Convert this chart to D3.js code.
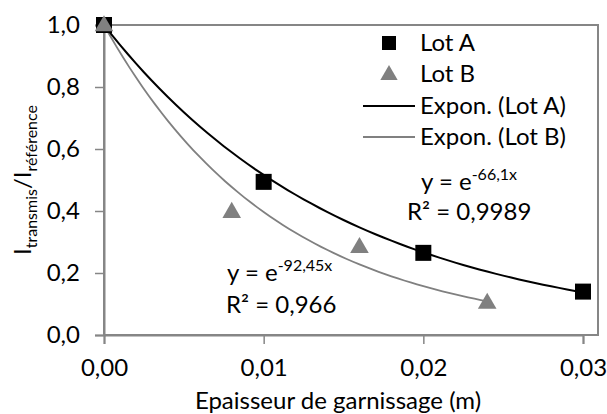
<!DOCTYPE html>
<html><head><meta charset="utf-8">
<script src="https://cdn.jsdelivr.net/npm/d3@7"></script>
<style>body{margin:0;background:#fff}svg{display:block}text{font-family:Lato,"Open Sans",sans-serif;fill:#000}</style>
</head><body><svg id="c" width="607" height="414"></svg>
<script>
const lotA_x = [0, 0.01, 0.02, 0.03];
const lotA_y = [1.0, 0.494, 0.265, 0.14];
const lotB_x = [0, 0.008, 0.016, 0.024];
const lotB_y = [1.0, 0.398, 0.285, 0.105];
const coefA = -66.1, coefB = -92.45;
const xTicks = [0, 0.01, 0.02, 0.03];
const yTicks = [0, 0.2, 0.4, 0.6, 0.8, 1.0];
const legendLabels = ["Lot A", "Lot B", "Expon. (Lot A)", "Expon. (Lot B)"];

const svg = d3.select("#c");
const L = 104, R = 583, T = 25, B = 335, RB = 598;
const x = d3.scaleLinear().domain([0, 0.03]).range([L, R]);
const y = d3.scaleLinear().domain([0, 1]).range([B, T]);
const fmt = d => d.toFixed(1).replace(".", ",");
const fmtX = d => d.toFixed(2).replace(".", ",");
const axisCol = "#868686";
const FS = "24px";

// plot border
svg.append("rect").attr("x", L).attr("y", T).attr("width", RB - L).attr("height", B - T)
  .attr("fill", "none").attr("stroke", axisCol).attr("stroke-width", 2);

// axes
const ya = svg.append("g").attr("transform", `translate(${L},0)`)
  .call(d3.axisLeft(y).tickValues(yTicks).tickFormat(fmt).tickSize(9).tickPadding(15));
const xa = svg.append("g").attr("transform", `translate(0,${B})`)
  .call(d3.axisBottom(x).tickValues(xTicks).tickFormat(fmtX).tickSize(9).tickPadding(15));
[ya, xa].forEach(g => {
  g.select(".domain").attr("stroke", axisCol).attr("stroke-width", 2);
  g.selectAll(".tick line").attr("stroke", axisCol).attr("stroke-width", 1.5);
  g.selectAll(".tick text").style("font-size", FS).attr("fill", "#000");
});

// curves
const line = d3.line().x(d => x(d[0])).y(d => y(d[1]));
const curve = (c, xmax) => d3.range(0, 61).map(i => { const xv = xmax * i / 60; return [xv, Math.exp(c * xv)]; });
svg.append("path").attr("d", line(curve(coefB, 0.024))).attr("fill", "none").attr("stroke", "#808080").attr("stroke-width", 1.8);
svg.append("path").attr("d", line(curve(coefA, 0.03))).attr("fill", "none").attr("stroke", "#000").attr("stroke-width", 2);

// markers
const sq = 16;
svg.selectAll(".a").data(lotA_x.map((v, i) => [v, lotA_y[i]])).enter().append("rect")
  .attr("x", d => x(d[0]) - sq / 2).attr("y", d => y(d[1]) - sq / 2).attr("width", sq).attr("height", sq).attr("fill", "#000");
const tri = d3.symbol().type(d3.symbolTriangle).size(150);
svg.selectAll(".b").data(lotB_x.map((v, i) => [v, lotB_y[i]])).enter().append("path")
  .attr("d", tri).attr("transform", d => `translate(${x(d[0])},${y(d[1]) + 1})`).attr("fill", "#808080");

// legend
const lg = svg.append("g").style("font-size", FS);
const ly = [43, 74, 106, 137];
lg.append("rect").attr("x", 382).attr("y", ly[0] - 7).attr("width", 14).attr("height", 14).attr("fill", "#000");
lg.append("path").attr("d", d3.symbol().type(d3.symbolTriangle).size(130)).attr("transform", `translate(389,${ly[1] + 1})`).attr("fill", "#808080");
lg.append("line").attr("x1", 363).attr("x2", 415).attr("y1", ly[2]).attr("y2", ly[2]).attr("stroke", "#000").attr("stroke-width", 2);
lg.append("line").attr("x1", 363).attr("x2", 415).attr("y1", ly[3]).attr("y2", ly[3]).attr("stroke", "#808080").attr("stroke-width", 1.8);
legendLabels.forEach((t, i) => lg.append("text").attr("x", 420).attr("y", ly[i]).attr("dy", "0.35em").text(t));

// equations
function eq(xp, yp, coef) {
  const t = svg.append("text").attr("x", xp).attr("y", yp).style("font-size", FS);
  t.append("tspan").text("y = e");
  t.append("tspan").attr("dy", -10).style("font-size", "16px").text(String(coef).replace(".", ",") + "x");
}
eq(421, 190, coefA);
svg.append("text").attr("x", 407).attr("y", 220).style("font-size", FS).text("R² = 0,9989");
eq(227, 281, coefB);
svg.append("text").attr("x", 226).attr("y", 313).style("font-size", FS).text("R² = 0,966");

// axis titles
svg.append("text").attr("x", 338).attr("y", 409).attr("text-anchor", "middle").style("font-size", FS).text("Epaisseur de garnissage (m)");
const yt = svg.append("text").attr("transform", "translate(31,180) rotate(-90)").attr("text-anchor", "middle").style("font-size", FS);
yt.append("tspan").text("I");
yt.append("tspan").attr("dy", 6).style("font-size", "16px").text("transmis");
yt.append("tspan").attr("dy", -6).text("/I");
yt.append("tspan").attr("dy", 6).style("font-size", "16px").text("référence");
</script></body></html>
